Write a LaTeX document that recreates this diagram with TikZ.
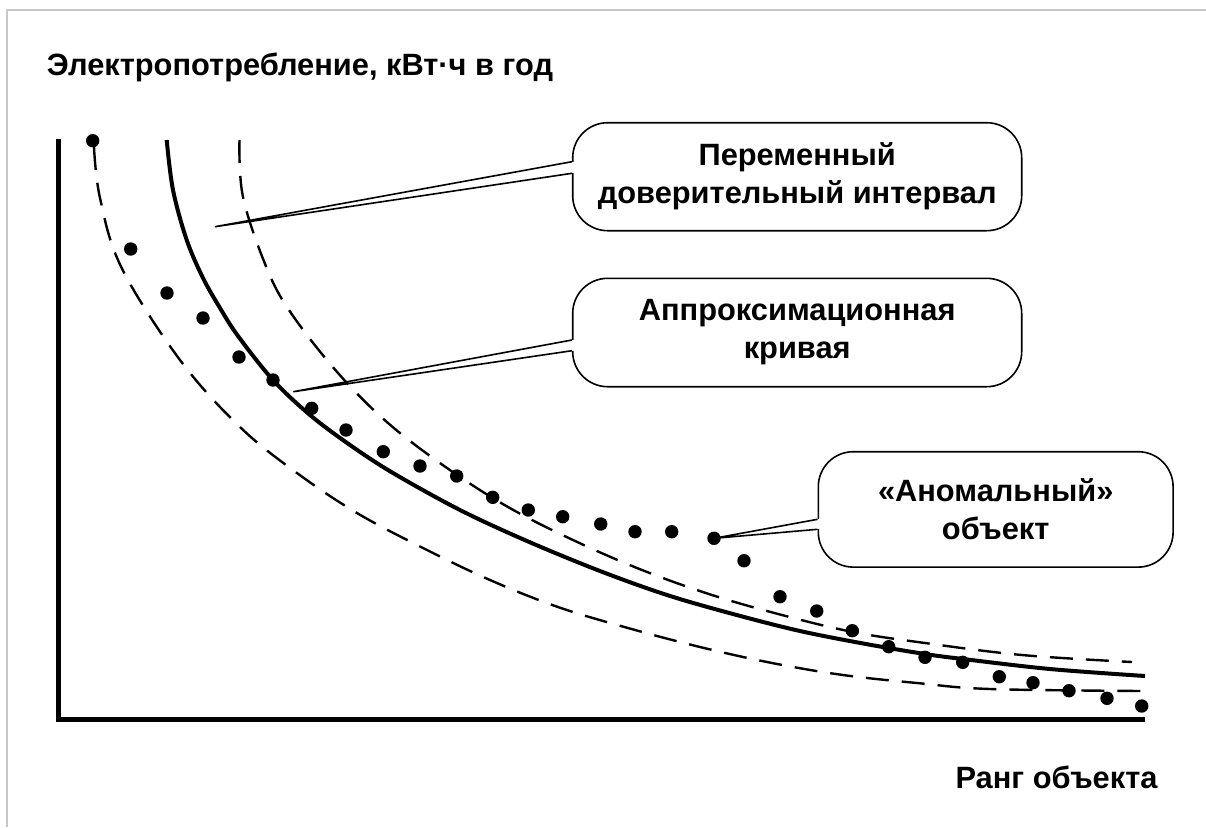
\documentclass[tikz,border=0pt]{standalone}
\usepackage{fontspec}
\setmainfont{Liberation Sans}
\usetikzlibrary{positioning,calc}

\begin{document}
\begin{tikzpicture}[x=0.5pt,y=-0.5pt,
		axis/.style={line width=2.5pt},
		fitcurve/.style={line width=2pt},
		band/.style={line width=1.2pt,dash pattern=on 11.5pt off 6.5pt},
		datapt/.style={circle,fill=black,inner sep=0pt,minimum size=6.7pt},
		callbox/.style={draw,line width=0.8pt,rounded corners=17.5pt,fill=white,align=center,inner sep=0pt,
			font=\fontsize{15.4}{19}\selectfont\bfseries},
		pointer/.style={line width=0.8pt},
		axislabel/.style={font=\fontsize{15.4}{18}\selectfont\bfseries}]
	\useasboundingbox (0,0) rectangle (1206,827);
	\draw[black!22,line width=0.6pt] (7,827) -- (7,10) -- (1206,10);

	% axes
	\draw[axis] (58.3,139) -- (58.3,719.3) -- (1145,719.3);
	\node[axislabel] (ylab) at (300,67) {Электропотребление, кВт·ч в год};
	\node[axislabel] (xlab) at (1056.5,777) {Ранг объекта};

	% approximation and band
	\draw[fitcurve] plot[smooth,tension=0.55] coordinates {(166.7,140) (173,190) (186.7,240) (203,278) (220,308)
		(238,336) (273,380) (310,415) (350,445) (393,473) (460,510) (527,541) (600,571) (667,595) (733,614)
		(800,631) (866,644) (925,654) (963,659) (1050,669) (1145,676)};
	\draw[band] plot[smooth,tension=0.6] coordinates {(239.5,140) (243,197) (266.7,268) (291,313) (338,373)
		(388,423) (447,468) (508,507) (573,540) (642,570) (712,595) (782,615) (853,632) (925,643) (1022,655)
		(1132,662)};
	\draw[band] plot[smooth,tension=0.6] coordinates {(94,147) (100,198) (121.7,268) (180,360) (240,427)
		(297,473) (357,513) (423,548) (490,580) (558,607) (628,628) (700,647) (772,663) (843,675) (917,683)
		(990,689) (1143,691)};

	% objects
	\foreach \x/\y [count=\i from 0] in {92.7/140.7,130.7/249,167/293,203/318,239/357,273/380,311.7/408.3,
			346/430,383.3/451.7,420/466,456.7/476,492.7/497.3,528.3/510,562.7/516.7,600.7/524,635/531.7,
			671.7/531.7,714/538.3,744/560.7,780/596.7,816.7/611,852.3/630.7,888.7/646.7,925/657.3,962.7/662.3,
			999.3/676.7,1033/682.7,1069/690.7,1107/698.3,1141.7/706}
		\node[datapt] (d\i) at (\x,\y) {};

	% callouts
	\node[callbox,minimum width=224.5pt,minimum height=54pt] (interval) at (797.2,176.7)
		{Переменный\\доверительный интервал};
	\node[callbox,minimum width=224.5pt,minimum height=54.2pt] (approx) at (797.2,332.5)
		{Аппроксимационная\\кривая};
	\node[callbox,minimum width=177.4pt,minimum height=57.7pt] (anomaly) at (995.7,509.4)
		{«Аномальный»\\объект};

	\coordinate (tipA) at (215,226.7);
	\coordinate (tipB) at (293.3,391.7);
	\fill[white] ($(interval.west)+(-2,-15)$) rectangle ($(interval.west)+(3,-3.4)$);
	\draw[pointer] ($(interval.west)+(0,-15)$) -- (tipA) -- ($(interval.west)+(0,-3.4)$);
	\fill[white] ($(approx.west)+(-2,7.5)$) rectangle ($(approx.west)+(3,18.2)$);
	\draw[pointer] ($(approx.west)+(0,7.5)$) -- (tipB) -- ($(approx.west)+(0,18.2)$);
	\fill[white] ($(anomaly.west)+(-2,9.9)$) rectangle ($(anomaly.west)+(3,19.9)$);
	\draw[pointer] ($(anomaly.west)+(0,9.9)$) -- (d17.center) -- ($(anomaly.west)+(0,19.9)$);
\end{tikzpicture}
\end{document}
